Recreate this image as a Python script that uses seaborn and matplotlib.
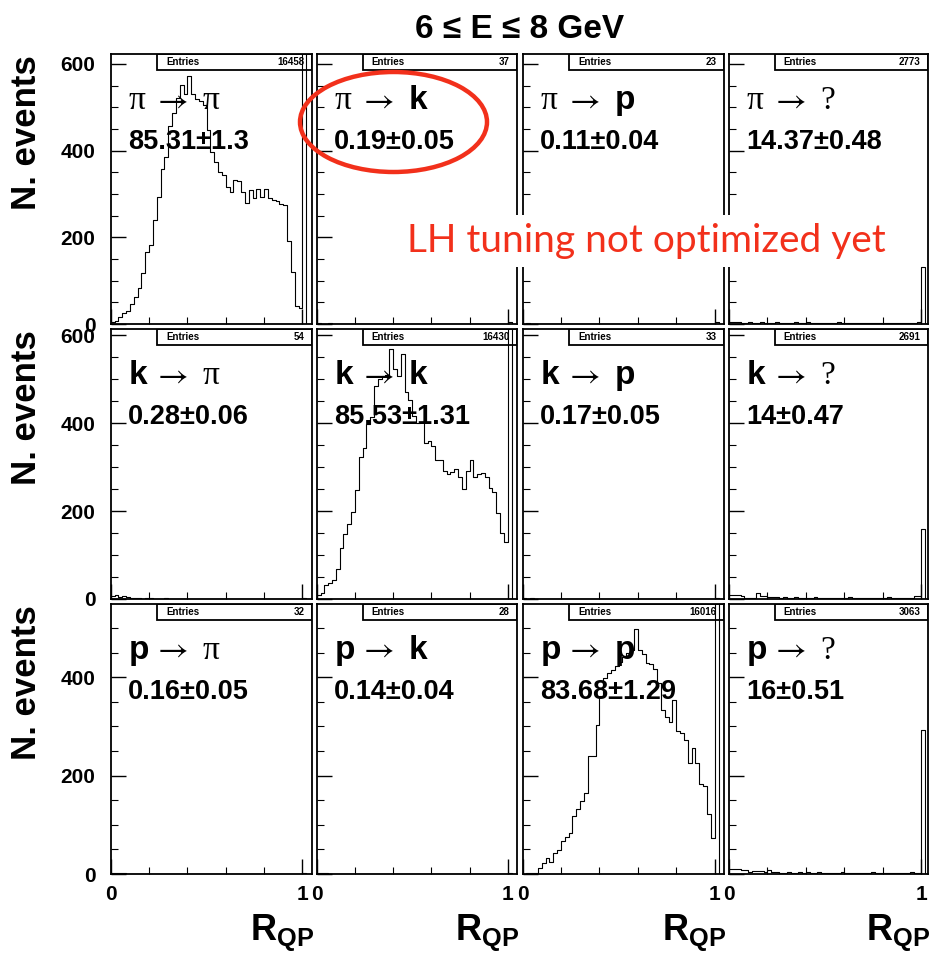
import numpy as np
import pandas as pd
import matplotlib
matplotlib.use("Agg")
import matplotlib.pyplot as plt
from matplotlib.patches import Rectangle, Ellipse
from matplotlib.ticker import MultipleLocator, FixedLocator
import seaborn as sns

sns.set_theme(style="ticks")
plt.rcParams.update({
    'font.family': ['Liberation Sans', 'DejaVu Sans'],
    'mathtext.fontset': 'custom',
    'mathtext.bf': 'Liberation Sans:bold',
    'mathtext.rm': 'Liberation Sans',
    'text.color': 'black',
    'axes.edgecolor': 'black',
    'xtick.color': 'black',
    'ytick.color': 'black',
    'xtick.bottom': True,
    'ytick.left': True,
    'xtick.top': False,
    'ytick.right': False,
    'xtick.direction': 'in',
    'ytick.direction': 'in',
    'xtick.major.size': 11,
    'ytick.major.size': 11,
    'xtick.minor.size': 5.3,
    'ytick.minor.size': 5.3,
    'xtick.major.width': 1.0,
    'ytick.major.width': 1.0,
    'xtick.minor.width': 0.8,
    'ytick.minor.width': 0.8,
})

# R_QP binning: 0.02 wide bins, the bin starting at 1.0 collects R_QP = 1
bin_width = 0.02
bin_range = (0, 1.04)

true_ids = ["π", "k", "p"]
reco_ids = ["π", "k", "p", "?"]
entries = [[16458, 37, 23, 2773],
           [54, 16430, 33, 2691],
           [32, 28, 16016, 3063]]
rates = [["85.31±1.3", "0.19±0.05", "0.11±0.04", "14.37±0.48"],
         ["0.28±0.06", "85.53±1.31", "0.17±0.05", "14±0.47"],
         ["0.16±0.05", "0.14±0.04", "83.68±1.29", "16±0.51"]]
row_ymax = [622, 613, 549]
col_xmax = [1.05, 1.05, 1.05, 1.035]

# counts per bin (51 bins, last one = R_QP 1)
pi_pi = [4, 8, 16, 25, 30, 45, 62, 82, 118, 165, 183, 241, 292, 358, 384, 456, 487, 522,
         551, 530, 571, 531, 518, 514, 505, 448, 397, 374, 351, 343, 315, 305, 331, 329,
         305, 280, 310, 290, 312, 292, 312, 290, 286, 284, 277, 275, 191, 121, 41, 37, 1400]
pi_k = [2, 1, 1, 2, 1, 0, 1, 0, 0, 1, 0, 0, 0, 0, 0, 1, 0, 0, 0, 0, 0, 0, 1, 0, 0, 0,
        0, 0, 0, 0, 1, 0, 0, 0, 0, 0, 0, 0, 0, 0, 1, 0, 0, 0, 0, 0, 0, 0, 0, 1, 4]
pi_p = [1, 2, 1, 0, 1, 0, 0, 0, 1, 0, 0, 0, 0, 1, 0, 0, 0, 0, 0, 1, 0, 0, 0, 0, 0, 0,
        1, 0, 0, 0, 0, 0, 0, 0, 0, 0, 0, 1, 0, 0, 0, 0, 0, 0, 0, 0, 0, 0, 0, 1, 4]
pi_q = [5, 5, 4, 3, 3, 4, 3, 3, 5, 3, 2, 3, 4, 3, 2, 3, 3, 4, 3, 3, 5, 3, 3, 2, 3, 2,
        3, 3, 4, 2, 2, 3, 2, 3, 2, 3, 2, 3, 2, 2, 3, 2, 3, 2, 2, 3, 2, 3, 3, 4, 131]
k_pi = [7, 8, 5, 6, 4, 3, 2, 2, 1, 2, 2, 1, 1, 1, 2, 1, 0, 1, 0, 0, 0, 1, 0, 0, 0, 1,
        0, 1, 0, 0, 0, 0, 1, 0, 0, 1, 0, 0, 0, 0, 0, 0, 1, 0, 0, 0, 0, 0, 0, 1, 3]
k_k = [10, 14, 31, 37, 43, 68, 117, 148, 171, 197, 247, 322, 343, 397, 413, 485, 499, 506,
       508, 569, 522, 506, 557, 471, 452, 417, 401, 403, 354, 358, 347, 316, 316, 292,
       284, 288, 296, 277, 249, 291, 317, 278, 283, 286, 278, 253, 244, 195, 150, 130, 1400]
k_p = [2, 1, 2, 1, 1, 1, 0, 1, 0, 1, 0, 0, 1, 0, 0, 0, 1, 0, 1, 0, 0, 0, 0, 1, 0, 0,
       0, 1, 0, 0, 0, 0, 0, 1, 0, 0, 0, 0, 0, 0, 0, 0, 0, 0, 0, 0, 0, 0, 0, 1, 3]
k_q = [9, 9, 8, 7, 3, 2, 2, 13, 6, 6, 5, 4, 4, 3, 5, 3, 3, 4, 3, 2, 3, 2, 5, 3, 2, 3,
       2, 2, 3, 2, 3, 4, 2, 3, 2, 3, 2, 2, 2, 3, 2, 4, 2, 3, 2, 3, 3, 3, 6, 6, 158]
p_pi = [3, 3, 2, 2, 1, 1, 0, 1, 0, 1, 0, 1, 0, 0, 1, 0, 0, 1, 0, 0, 0, 1, 0, 0, 1, 0,
        0, 0, 0, 1, 0, 0, 0, 1, 0, 0, 0, 0, 0, 0, 0, 0, 0, 0, 0, 0, 0, 0, 0, 1, 3]
p_k = [3, 2, 2, 1, 1, 1, 1, 0, 1, 0, 0, 0, 1, 0, 0, 1, 0, 0, 0, 0, 1, 0, 0, 0, 0, 0,
       1, 0, 0, 0, 0, 0, 0, 0, 0, 0, 1, 0, 0, 0, 0, 0, 0, 0, 0, 0, 0, 0, 0, 1, 2]
p_p = [1, 2, 2, 3, 12, 23, 32, 25, 42, 49, 68, 76, 84, 117, 132, 149, 164, 240, 239, 303,
       361, 398, 408, 415, 422, 432, 442, 449, 456, 498, 456, 447, 430, 427, 416, 388,
       334, 319, 310, 354, 290, 286, 273, 225, 256, 225, 184, 178, 123, 73, 1400]
p_q = [10, 10, 10, 9, 8, 5, 7, 6, 6, 5, 9, 4, 4, 3, 3, 4, 3, 3, 5, 3, 4, 3, 3, 4, 3, 3,
       2, 3, 3, 4, 3, 3, 3, 2, 3, 3, 2, 4, 3, 3, 3, 3, 2, 3, 2, 3, 3, 4, 3, 3, 293]

counts = [[pi_pi, pi_k, pi_p, pi_q],
          [k_pi, k_k, k_p, k_q],
          [p_pi, p_k, p_p, p_q]]

# pad frames in pixels (930 x 956 canvas)
col_px = [(110.7, 312.0), (316.7, 517.3), (522.5, 724.3), (729.0, 928.0)]
row_px = [(54.3, 324.0), (329.3, 599.0), (604.0, 874.0)]
W, H = 930.0, 956.0

red = '#F2301B'
serif = ['Liberation Serif', 'DejaVu Serif']
sans = ['Liberation Sans', 'DejaVu Sans']


def tok_style(t):
    if t in ("π", "?"):
        return dict(family=serif, fontweight='normal')
    return dict(family=sans, fontweight='bold')


fig = plt.figure(figsize=(9.3, 9.56), dpi=100)

n_bins = len(pi_pi)
centers = bin_range[0] + bin_width * (np.arange(n_bins) + 0.5)

for i in range(3):
    for j in range(4):
        x0, x1 = col_px[j]
        y0, y1 = row_px[i]
        ax = fig.add_axes([x0 / W, 1 - y1 / H, (x1 - x0) / W, (y1 - y0) / H])
        c = counts[i][j]
        assert len(c) == n_bins
        df = pd.DataFrame({"rqp": centers, "n": c})
        sns.histplot(data=df, x="rqp", weights="n", binwidth=bin_width, binrange=bin_range,
                     element="step", fill=False, color="black", linewidth=0.8, ax=ax,
                     zorder=3)
        ax.set_xlim(0, col_xmax[j])
        ax.set_ylim(0, row_ymax[i])
        ax.set_xlabel("")
        ax.set_ylabel("")

        ax.xaxis.set_major_locator(FixedLocator([0, 1]))
        ax.xaxis.set_minor_locator(FixedLocator([0.2, 0.4, 0.6, 0.8]))
        ax.yaxis.set_major_locator(MultipleLocator(200))
        ax.yaxis.set_minor_locator(MultipleLocator(50))
        ax.tick_params(axis='y', pad=11, labelleft=(j == 0))
        ax.tick_params(axis='x', pad=8, labelbottom=(i == 2))
        if i == 2:
            ax.set_xticklabels(["0", "1"])
        for lab in ax.get_xticklabels() + ax.get_yticklabels():
            lab.set_fontsize(15)
            lab.set_fontweight('bold')
        for sp in ax.spines.values():
            sp.set_visible(True)
            sp.set_color('black')
            sp.set_linewidth(1.3)

        # stats box
        bh = 16.0 / (y1 - y0)
        ax.add_patch(Rectangle((0.23, 1 - bh), 0.77, bh, transform=ax.transAxes,
                               fc='white', ec='black', lw=1.3, zorder=1))
        ax.text(0.275, 1 - bh / 2, "Entries", transform=ax.transAxes, fontsize=7,
                fontweight='bold', va='center', ha='left', zorder=2)
        ax.text(0.962, 1 - bh / 2, str(entries[i][j]), transform=ax.transAxes, fontsize=7,
                fontweight='bold', va='center', ha='right', zorder=2)

        # identification label
        ax.text(0.09, 0.796, true_ids[i], transform=ax.transAxes, fontsize=24,
                va='baseline', ha='left', zorder=4, **tok_style(true_ids[i]))
        ax.text(0.232, 0.796, "→", transform=ax.transAxes, fontsize=24,
                family=['STIXGeneral', 'DejaVu Serif'],
                va='baseline', ha='left', zorder=4)
        ax.text(0.458, 0.796, reco_ids[j], transform=ax.transAxes, fontsize=24,
                va='baseline', ha='left', zorder=4, **tok_style(reco_ids[j]))
        ax.text(0.085, 0.648, rates[i][j], transform=ax.transAxes, fontsize=19.5,
                fontweight='bold', va='baseline', ha='left', zorder=4)

# axis titles
for i in range(3):
    fig.text(27 / W, 1 - (row_px[i][0] + 1) / H, "N. events", rotation=90,
             ha='center', va='top', fontsize=25, fontweight='bold')
for j in range(4):
    fig.text((col_px[j][1] + 2) / W, 1 - 940 / H, r"$\mathbf{R}_{\mathbf{QP}}$",
             ha='right', va='baseline', fontsize=26)

fig.text(520 / W, 1 - 30 / H, "6 ≤ E ≤ 8 GeV", ha='center', va='center',
         fontsize=24, fontweight='bold')

# annotation
fig.add_artist(Ellipse((393.5 / W, 1 - 122 / H), 187 / W, 100 / H,
                       transform=fig.transFigure, fill=False, ec=red, lw=3.2))
fig.text(407 / W, 1 - 252 / H, "LH tuning not optimized yet", family=['Lato', 'DejaVu Sans'],
         fontsize=28, color=red, ha='left', va='baseline',
         bbox=dict(boxstyle='square,pad=0.2', fc='white', ec='none'))

fig.savefig("out.png", dpi=100)
